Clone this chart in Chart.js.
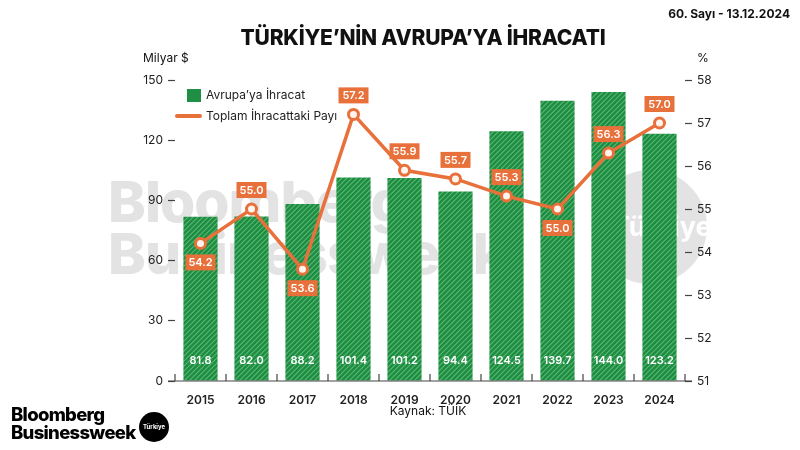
<!DOCTYPE html>
<html>
<head>
<meta charset="utf-8">
<script src="https://cdn.jsdelivr.net/npm/chart.js@4.4.1/dist/chart.umd.min.js"></script>
<style>
  body { margin: 0; background: #fff; font-family: Inter, "Liberation Sans", sans-serif; }
  #wrap { position: relative; width: 800px; height: 450px; overflow: hidden; }
  canvas { position: absolute; left: 0; top: 0; }
  .txt { position: absolute; color: #111; white-space: nowrap; }
  #title { left: 0; width: 846px; top: 25px; text-align: center; font-size: 21px; font-weight: 800; letter-spacing: -0.2px; }
  #issue { right: 10px; top: 6px; font-size: 12px; font-weight: 700; }
  #unitL { left: 143px; top: 50px; font-size: 12px; }
  #unitR { left: 697px; top: 50px; font-size: 12px; }
  #source { left: 0; width: 856px; top: 403px; text-align: center; font-size: 12px; }
  #logo { left: 11px; top: 405px; font-size: 18.5px; font-weight: 800; line-height: 18px; letter-spacing: -0.7px; color: #000; }
  #badge { left: 139px; top: 412px; width: 30px; height: 30px; border-radius: 50%; background: #000; color: #fff; font-size: 6px; font-weight: 700; text-align: center; line-height: 30px; }
  .leg { font-size: 12px; color: #222; }
</style>
</head>
<body>
<div id="wrap">
  <canvas id="chart" width="800" height="450"></canvas>
  <div class="txt" id="title">TÜRKİYE’NİN AVRUPA’YA İHRACATI</div>
  <div class="txt" id="issue">60. Sayı - 13.12.2024</div>
  <div class="txt" id="unitL">Milyar $</div>
  <div class="txt" id="unitR">%</div>
  <div class="txt" id="source">Kaynak: TÜİK</div>
  <div class="txt" id="logo">Bloomberg<br>Businessweek</div>
  <div class="txt" id="badge">Türkiye</div>
  <div class="txt leg" style="left:187px;top:89px;width:14px;height:13px;background:#1f8f45"></div>
  <div class="txt leg" style="left:206px;top:87px;">Avrupa’ya İhracat</div>
  <div class="txt leg" style="left:175px;top:114px;width:27px;height:4px;border-radius:2px;background:#e8703a"></div>
  <div class="txt leg" style="left:206px;top:108px;">Toplam İhracattaki Payı</div>
</div>
<script>
var years = ["2015", "2016", "2017", "2018", "2019", "2020", "2021", "2022", "2023", "2024"];
var exportsEU = [81.8, 82.0, 88.2, 101.4, 101.2, 94.4, 124.5, 139.7, 144.0, 123.2];
var shareEU = [54.2, 55.0, 53.6, 57.2, 55.9, 55.7, 55.3, 55.0, 56.3, 57.0];
// label above (1) or below (-1) the point
var labelSide = [-1, 1, -1, 1, 1, 1, 1, -1, 1, 1];
var leftTicks = [0, 30, 60, 90, 120, 150];
var rightTicks = [51, 52, 53, 54, 55, 56, 57, 58];

var orange = '#e8703a';

// striped green fill for the bars
var tile = document.createElement('canvas');
tile.width = 5; tile.height = 5;
var tc = tile.getContext('2d');
tc.fillStyle = '#1d8c43';
tc.fillRect(0, 0, 5, 5);
tc.strokeStyle = '#5ab870';
tc.lineWidth = 1.2;
tc.beginPath();
tc.moveTo(-1, 6); tc.lineTo(6, -1);
tc.moveTo(-1, 1); tc.lineTo(1, -1);
tc.moveTo(4, 6); tc.lineTo(6, 4);
tc.stroke();
var stripes = tc.createPattern(tile, 'repeat');

// big grey watermark behind everything
var watermark = {
  id: 'watermark',
  beforeDraw: function (chart) {
    var ctx = chart.ctx;
    ctx.save();
    ctx.fillStyle = '#e3e3e3';
    ctx.font = '800 57px Inter, sans-serif';
    ctx.letterSpacing = '-1px';
    ctx.textBaseline = 'alphabetic';
    ctx.fillText('Bloomberg', 108, 222);
    ctx.fillText('Businessweek', 108, 274);
    ctx.beginPath();
    ctx.arc(650, 227, 57, 0, Math.PI * 2);
    ctx.fill();
    ctx.fillStyle = '#fff';
    ctx.letterSpacing = '0px';
    ctx.font = '700 27px Inter, sans-serif';
    ctx.textBaseline = 'middle';
    ctx.fillText('Türkiye', 612, 228);
    ctx.restore();
  }
};

// x axis line with small upward ticks between categories
var baseAxis = {
  id: 'baseAxis',
  afterDatasetsDraw: function (chart) {
    var ctx = chart.ctx;
    var x = chart.scales.x;
    var y0 = chart.scales.y.getPixelForValue(0);
    ctx.save();
    ctx.strokeStyle = '#444';
    ctx.lineWidth = 1.2;
    ctx.beginPath();
    ctx.moveTo(168, y0);
    ctx.lineTo(692, y0);
    var step = x.getPixelForValue(1) - x.getPixelForValue(0);
    for (var i = 0; i <= years.length; i++) {
      var px = x.getPixelForValue(0) - step / 2 + i * step;
      ctx.moveTo(px, y0);
      ctx.lineTo(px, y0 - 7);
    }
    ctx.stroke();
    ctx.restore();
  }
};

// value labels: white inside bars, orange boxes on the line
var valueLabels = {
  id: 'valueLabels',
  afterDraw: function (chart) {
    var ctx = chart.ctx;
    ctx.save();
    ctx.textAlign = 'center';
    ctx.textBaseline = 'middle';
    ctx.font = '600 11px Inter, sans-serif';
    var bars = chart.getDatasetMeta(1).data;
    bars.forEach(function (b, i) {
      ctx.fillStyle = '#fff';
      ctx.fillText(exportsEU[i].toFixed(1), b.x, 361);
    });
    var pts = chart.getDatasetMeta(0).data;
    pts.forEach(function (p, i) {
      var cy = p.y - labelSide[i] * 19;
      ctx.fillStyle = orange;
      ctx.fillRect(p.x - 15, cy - 8, 30, 16);
      ctx.fillStyle = '#fff';
      ctx.fillText(shareEU[i].toFixed(1), p.x, cy + 0.5);
    });
    ctx.restore();
  }
};

function tickDash(w) {
  return function (scale) { scale.width = w; };
}

new Chart(document.getElementById('chart'), {
  data: {
    labels: years,
    datasets: [
      {
        type: 'line',
        label: 'Toplam İhracattaki Payı',
        data: shareEU,
        yAxisID: 'y1',
        borderColor: orange,
        borderWidth: 3.5,
        pointRadius: 5,
        pointBorderWidth: 3,
        pointBackgroundColor: '#fff4ee',
        pointBorderColor: orange,
        tension: 0,
        order: 0
      },
      {
        type: 'bar',
        label: 'Avrupa’ya İhracat',
        data: exportsEU,
        yAxisID: 'y',
        backgroundColor: stripes,
        categoryPercentage: 1,
        barPercentage: 0.67,
        order: 1
      }
    ]
  },
  options: {
    responsive: false,
    animation: false,
    layout: { padding: { top: 80, bottom: 0, left: 0, right: 0 } },
    plugins: {
      legend: { display: false },
      tooltip: { enabled: false }
    },
    scales: {
      x: {
        offset: true,
        grid: { display: false },
        border: { display: false },
        ticks: { color: '#222', font: { family: 'Inter', size: 12, weight: '600' }, padding: 4 },
        afterFit: function (scale) { scale.height = 69; }
      },
      y: {
        position: 'left',
        min: 0, max: 150,
        afterBuildTicks: function (scale) { scale.ticks = leftTicks.map(function (v) { return { value: v }; }); },
        grid: { drawOnChartArea: false, tickLength: 7, tickColor: '#444', tickWidth: 1.2 },
        border: { display: false },
        ticks: { color: '#222', font: { family: 'Inter', size: 12 }, padding: 5 },
        afterFit: tickDash(175)
      },
      y1: {
        position: 'right',
        min: 51, max: 58,
        afterBuildTicks: function (scale) { scale.ticks = rightTicks.map(function (v) { return { value: v }; }); },
        grid: { drawOnChartArea: false, tickLength: 7, tickColor: '#444', tickWidth: 1.2 },
        border: { display: false },
        ticks: { color: '#222', font: { family: 'Inter', size: 12 }, padding: 5 },
        afterFit: tickDash(115)
      }
    }
  },
  plugins: [watermark, baseAxis, valueLabels]
});
</script>
</body>
</html>
